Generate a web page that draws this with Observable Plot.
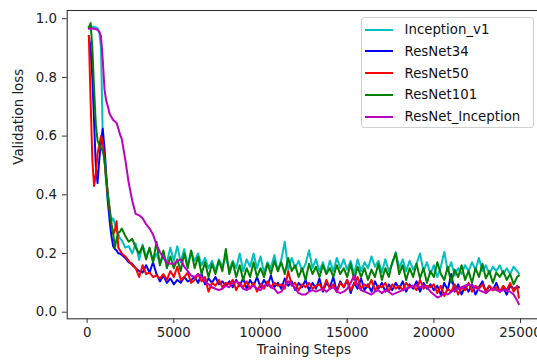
<!DOCTYPE html>
<html>
<head>
<meta charset="utf-8">
<script src="https://cdn.jsdelivr.net/npm/d3@7"></script>
<script src="https://cdn.jsdelivr.net/npm/@observablehq/plot@0.6"></script>
<style>
  html, body { margin: 0; padding: 0; background: #fff; overflow: hidden; }
  #wrap { position: relative; width: 537px; height: 362px; overflow: hidden; }
  #wrap svg { max-width: none !important; height: 362px !important; display: block; }
  #legend {
    position: absolute; left: 360.5px; top: 16.5px; width: 173px; height: 111.5px;
    box-sizing: border-box; border: 1px solid #d0d0d0; border-radius: 3px;
    background: rgba(255,255,255,0.8); padding-top: 1.2px;
    font-family: "DejaVu Sans", sans-serif; font-size: 13.33px; color: #111;
  }
  .row { display: flex; align-items: center; height: 21.75px; }
  .sw { width: 28px; height: 2px; margin-left: 3px; margin-right: 12px; }
</style>
</head>
<body>
<div id="wrap"><div id="legend"></div></div>
<script>
const models = ["Inception_v1", "ResNet34", "ResNet50", "ResNet101", "ResNet_Inception"];
const colors = ["#00bfbf", "#0000ff", "#ff0000", "#008000", "#bf00bf"];
const xTicks = [0, 5000, 10000, 15000, 20000, 25000];
const yTicks = [0.0, 0.2, 0.4, 0.6, 0.8, 1.0];

const steps = [
  100, 200, 300, 400, 500, 600, 700, 800, 900, 1000,
  1100, 1200, 1300, 1400, 1500, 1600, 1700, 1800, 1900, 2000,
  2200, 2400, 2600, 2800, 3000, 3200, 3400, 3600, 3800, 4000,
  4200, 4400, 4600, 4800, 5000, 5200, 5400, 5600, 5800, 6000,
  6200, 6400, 6600, 6800, 7000, 7200, 7400, 7600, 7800, 8000,
  8200, 8400, 8600, 8800, 9000, 9200, 9400, 9600, 9800, 10000,
  10200, 10400, 10600, 10800, 11000, 11200, 11400, 11600, 11800, 12000,
  12200, 12400, 12600, 12800, 13000, 13200, 13400, 13600, 13800, 14000,
  14200, 14400, 14600, 14800, 15000, 15200, 15400, 15600, 15800, 16000,
  16200, 16400, 16600, 16800, 17000, 17200, 17400, 17600, 17800, 18000,
  18200, 18400, 18600, 18800, 19000, 19200, 19400, 19600, 19800, 20000,
  20200, 20400, 20600, 20800, 21000, 21200, 21400, 21600, 21800, 22000,
  22200, 22400, 22600, 22800, 23000, 23200, 23400, 23600, 23800, 24000,
  24200, 24400, 24600, 24800, 24900
];

const inceptionV1 = [
  0.972, 0.975, 0.973, 0.972, 0.970, 0.968, 0.955, 0.90, 0.60, 0.52,
  0.44, 0.37, 0.33, 0.31, 0.32, 0.30, 0.28, 0.265, 0.25, 0.245,
  0.22, 0.225, 0.20, 0.234, 0.178, 0.23, 0.19, 0.215, 0.175, 0.20,
  0.165, 0.19, 0.17, 0.22, 0.175, 0.225, 0.17, 0.215, 0.16, 0.205,
  0.175, 0.20, 0.16, 0.185, 0.15, 0.175, 0.14, 0.18, 0.155, 0.19,
  0.145, 0.175, 0.15, 0.20, 0.14, 0.18, 0.155, 0.20, 0.15, 0.19,
  0.135, 0.17, 0.15, 0.195, 0.14, 0.18, 0.24, 0.145, 0.185, 0.15,
  0.175, 0.14, 0.165, 0.21, 0.15, 0.18, 0.14, 0.17, 0.13, 0.175,
  0.14, 0.185, 0.15, 0.18, 0.145, 0.175, 0.13, 0.18, 0.14, 0.17,
  0.15, 0.19, 0.155, 0.175, 0.135, 0.18, 0.14, 0.165, 0.205, 0.15,
  0.18, 0.14, 0.175, 0.145, 0.165, 0.20, 0.14, 0.17, 0.13, 0.16,
  0.12, 0.155, 0.205, 0.14, 0.17, 0.125, 0.15, 0.13, 0.16, 0.14,
  0.17, 0.145, 0.185, 0.14, 0.16, 0.13, 0.155, 0.14, 0.16, 0.13,
  0.15, 0.13, 0.155, 0.14, 0.132
];

const resNet34 = [
  0.94, 0.90, 0.80, 0.65, 0.50, 0.44, 0.52, 0.58, 0.625, 0.56,
  0.47, 0.38, 0.31, 0.26, 0.225, 0.215, 0.21, 0.20, 0.20, 0.195,
  0.185, 0.17, 0.165, 0.15, 0.14, 0.135, 0.16, 0.135, 0.17, 0.13,
  0.105, 0.125, 0.10, 0.115, 0.095, 0.11, 0.10, 0.12, 0.105, 0.11,
  0.12, 0.10, 0.13, 0.095, 0.115, 0.10, 0.12, 0.095, 0.105, 0.09,
  0.105, 0.085, 0.11, 0.09, 0.115, 0.08, 0.11, 0.09, 0.12, 0.085,
  0.11, 0.09, 0.125, 0.085, 0.10, 0.08, 0.115, 0.09, 0.105, 0.075,
  0.10, 0.085, 0.11, 0.075, 0.10, 0.08, 0.115, 0.07, 0.10, 0.085,
  0.12, 0.07, 0.105, 0.085, 0.11, 0.065, 0.10, 0.08, 0.115, 0.075,
  0.095, 0.07, 0.105, 0.08, 0.10, 0.07, 0.095, 0.075, 0.10, 0.08,
  0.105, 0.07, 0.095, 0.08, 0.105, 0.07, 0.10, 0.08, 0.095, 0.075,
  0.09, 0.06, 0.10, 0.075, 0.13, 0.07, 0.095, 0.06, 0.09, 0.07,
  0.095, 0.06, 0.085, 0.105, 0.07, 0.09, 0.075, 0.10, 0.07, 0.085,
  0.06, 0.09, 0.08, 0.085, 0.085
];

const resNet50 = [
  0.94, 0.72, 0.52, 0.43, 0.47, 0.54, 0.57, 0.60, 0.58, 0.52,
  0.45, 0.40, 0.35, 0.30, 0.265, 0.28, 0.31, 0.22, 0.21, 0.20,
  0.19, 0.175, 0.16, 0.15, 0.12, 0.16, 0.13, 0.135, 0.12, 0.125,
  0.115, 0.13, 0.11, 0.14, 0.12, 0.155, 0.11, 0.12, 0.135, 0.10,
  0.11, 0.13, 0.105, 0.12, 0.07, 0.10, 0.09, 0.11, 0.085, 0.10,
  0.095, 0.11, 0.075, 0.10, 0.085, 0.105, 0.08, 0.10, 0.07, 0.095,
  0.08, 0.105, 0.085, 0.10, 0.09, 0.095, 0.08, 0.14, 0.09, 0.10,
  0.075, 0.095, 0.085, 0.10, 0.08, 0.09, 0.095, 0.075, 0.11, 0.08,
  0.095, 0.07, 0.10, 0.085, 0.11, 0.075, 0.095, 0.12, 0.08, 0.095,
  0.085, 0.11, 0.075, 0.09, 0.085, 0.10, 0.07, 0.095, 0.08, 0.09,
  0.075, 0.10, 0.085, 0.09, 0.075, 0.11, 0.08, 0.09, 0.085, 0.095,
  0.065, 0.09, 0.055, 0.08, 0.07, 0.095, 0.06, 0.085, 0.075, 0.10,
  0.07, 0.09, 0.08, 0.095, 0.07, 0.09, 0.075, 0.085, 0.07, 0.09,
  0.075, 0.10, 0.07, 0.09, 0.05
];

const resNet101 = [
  0.97, 0.985, 0.90, 0.76, 0.64, 0.585, 0.57, 0.56, 0.55, 0.52,
  0.46, 0.40, 0.35, 0.30, 0.27, 0.22, 0.25, 0.27, 0.275, 0.285,
  0.26, 0.24, 0.25, 0.22, 0.20, 0.225, 0.18, 0.22, 0.17, 0.24,
  0.16, 0.21, 0.15, 0.19, 0.15, 0.18, 0.14, 0.20, 0.15, 0.21,
  0.15, 0.19, 0.13, 0.17, 0.12, 0.165, 0.13, 0.175, 0.14, 0.215,
  0.13, 0.17, 0.12, 0.16, 0.11, 0.15, 0.12, 0.17, 0.12, 0.15,
  0.12, 0.165, 0.13, 0.175, 0.14, 0.17, 0.13, 0.185, 0.14, 0.16,
  0.12, 0.15, 0.11, 0.165, 0.13, 0.155, 0.12, 0.16, 0.13, 0.15,
  0.12, 0.16, 0.13, 0.15, 0.12, 0.165, 0.11, 0.155, 0.12, 0.15,
  0.11, 0.145, 0.12, 0.165, 0.11, 0.15, 0.12, 0.17, 0.20, 0.13,
  0.16, 0.11, 0.15, 0.12, 0.165, 0.115, 0.15, 0.10, 0.14, 0.12,
  0.17, 0.13, 0.11, 0.155, 0.10, 0.145, 0.12, 0.16, 0.11, 0.14,
  0.10, 0.15, 0.12, 0.165, 0.115, 0.14, 0.10, 0.135, 0.12, 0.14,
  0.11, 0.13, 0.095, 0.12, 0.125
];

const resNetInception = [
  0.966, 0.967, 0.967, 0.966, 0.965, 0.962, 0.955, 0.94, 0.86, 0.76,
  0.72, 0.70, 0.675, 0.665, 0.655, 0.65, 0.645, 0.625, 0.605, 0.59,
  0.52, 0.44, 0.38, 0.335, 0.33, 0.32, 0.30, 0.285, 0.265, 0.23,
  0.205, 0.185, 0.17, 0.165, 0.165, 0.175, 0.18, 0.155, 0.14, 0.125,
  0.12, 0.13, 0.12, 0.105, 0.095, 0.085, 0.08, 0.075, 0.08, 0.09,
  0.085, 0.10, 0.105, 0.095, 0.08, 0.075, 0.085, 0.09, 0.08, 0.075,
  0.09, 0.095, 0.085, 0.08, 0.065, 0.07, 0.09, 0.105, 0.095, 0.08,
  0.065, 0.06, 0.06, 0.07, 0.075, 0.07, 0.075, 0.08, 0.07, 0.08,
  0.085, 0.07, 0.065, 0.07, 0.08, 0.10, 0.125, 0.09, 0.075, 0.07,
  0.065, 0.06, 0.07, 0.075, 0.065, 0.075, 0.07, 0.06, 0.065, 0.07,
  0.075, 0.08, 0.085, 0.09, 0.09, 0.085, 0.09, 0.085, 0.07, 0.06,
  0.05, 0.055, 0.065, 0.06, 0.07, 0.075, 0.08, 0.085, 0.09, 0.095,
  0.09, 0.085, 0.075, 0.07, 0.065, 0.075, 0.08, 0.075, 0.07, 0.075,
  0.075, 0.07, 0.06, 0.04, 0.028
];

const seriesValues = [inceptionV1, resNet34, resNet50, resNet101, resNetInception];
const rowsFor = (vals, m) => steps.map((s, i) => ({step: s, loss: vals[i], model: m})).filter(d => d.loss != null);

const font = "'DejaVu Sans', sans-serif";
const chart = Plot.plot({
  width: 545,
  height: 362,
  marginLeft: 66.7,
  marginRight: 5,
  marginTop: 10,
  marginBottom: 43.7,
  style: {fontFamily: font, fontSize: "13.33px", background: "white", color: "#222", maxWidth: "none"},
  x: {domain: [-1150, 26150]},
  y: {domain: [-0.0225, 1.028]},
  color: {domain: models, range: colors},
  marks: [
    ...models.map((m, k) => Plot.line(rowsFor(seriesValues[k], m), {
      x: "step", y: "loss", stroke: "model", strokeWidth: 2, strokeLinejoin: "round", strokeLinecap: "square"
    })),
    Plot.axisX({ticks: xTicks, tickSize: 4.7, tickPadding: 4, tickFormat: d => String(d), label: null, stroke: "#333", fill: "#222"}),
    Plot.axisY({ticks: yTicks, tickSize: 4.7, tickPadding: 5.5, tickFormat: d3.format(".1f"), label: null, stroke: "#333", fill: "#222"}),
    Plot.text(["Training Steps"], {text: d => d, frameAnchor: "bottom", dy: 35, fill: "#222"}),
    Plot.text(["Validation loss"], {text: d => d, frameAnchor: "left", dx: -48.5, rotate: -90, fill: "#222"}),
    Plot.frame({stroke: "#333", strokeWidth: 1.1})
  ]
});
const wrap = document.getElementById("wrap");
wrap.insertBefore(chart, wrap.firstChild);

const legend = d3.select("#legend");
models.forEach((m, k) => {
  const row = legend.append("div").attr("class", "row");
  row.append("div").attr("class", "sw").style("background", colors[k]);
  row.append("span").text(m);
});
</script>
</body>
</html>
